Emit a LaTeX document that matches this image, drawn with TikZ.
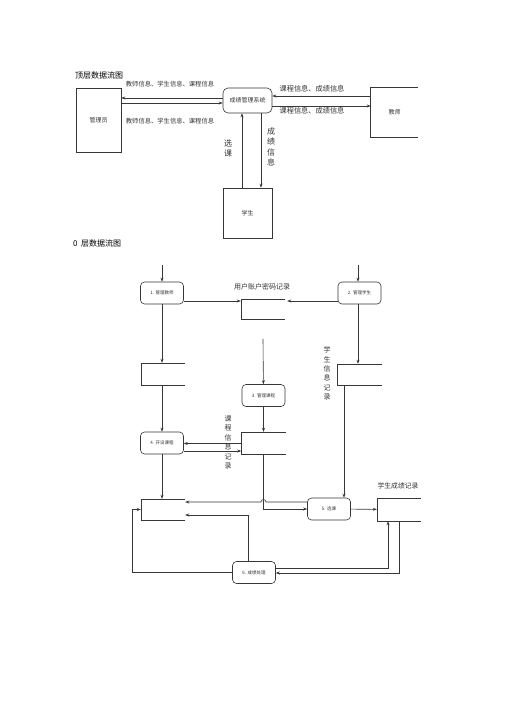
\documentclass[tikz,border=0pt]{standalone}
\usepackage{fontspec}
\newfontfamily\cjk{Noto Sans CJK SC}
\usetikzlibrary{arrows.meta,positioning,calc}
\definecolor{linecol}{RGB}{55,55,55}
\definecolor{textcol}{RGB}{50,50,50}

\tikzset{
  line/.style={linecol,line width=0.6pt},
  proc/.style={draw=linecol,line width=0.6pt,rounded corners=4pt,minimum width=43pt,minimum height=22pt,inner sep=0pt,text=textcol,font=\cjk\fontsize{4.5}{5}\selectfont},
  box/.style={draw=linecol,line width=0.6pt,inner sep=0pt,text=textcol,font=\cjk\fontsize{6}{7}\selectfont},
  store/.style={minimum width=44pt,minimum height=21pt,inner sep=0pt},
  lab/.style={text=textcol,inner sep=0pt,font=\cjk\fontsize{6.3}{7}\selectfont},
  vlab/.style={text=textcol,inner sep=0pt,align=center,font=\cjk\fontsize{7}{9.4}\selectfont},
}

\begin{document}
\begin{tikzpicture}[x=1pt,y=-1pt,>={Stealth[length=4pt,width=3pt]}]
  \useasboundingbox (0,0) rectangle (505,714);

  % top level
  \node[anchor=west,inner sep=0pt,font=\cjk\fontsize{8}{9}\selectfont] (t1) at (75,75) {顶层数据流图};
  \node[box,minimum width=45pt,minimum height=64pt] (adm) at (98.5,120) {管理员};
  \node[box,rounded corners=5pt,minimum width=49pt,minimum height=25pt] (sys) at (247.5,100.5) {成绩管理系统};
  \node[box,draw=none,minimum width=47pt,minimum height=49pt] (tea) at (394.5,112.5) {教师};
  \node[box,minimum width=49pt,minimum height=50pt] (stu) at (247.5,213) {学生};

  \draw[line,->] (sys.west |- 0,98) -- (adm.east |- 0,98);
  \draw[line,->] (adm.east |- 0,103) -- (sys.west |- 0,103);
  \draw[line,->] (tea.west |- 0,96) -- (sys.east |- 0,96);
  \draw[line,->] (sys.east |- 0,106) -- (tea.west |- 0,106);
  \draw[line,->] (stu.north -| 242,0) -- (sys.south -| 242,0);
  \draw[line,->] (sys.south -| 261,0) -- (stu.north -| 261,0);

  \node[lab] (l1) at (170,84) {教师信息、学生信息、课程信息};
  \node[lab] (l2) at (170,121) {教师信息、学生信息、课程信息};
  \node[lab,font=\cjk\fontsize{7.2}{8}\selectfont] (l3) at (312,89) {课程信息、成绩信息};
  \node[lab,font=\cjk\fontsize{7.2}{8}\selectfont] (l4) at (312,111) {课程信息、成绩信息};
  \node[vlab,font=\cjk\fontsize{8}{10}\selectfont] (l5) at (228,148) {选\\课};
  \node[vlab,font=\cjk\fontsize{8}{10.5}\selectfont] (l6) at (271,147) {成\\绩\\信\\息};

  % level 0
  \node[anchor=west,inner sep=0pt,font=\cjk\fontsize{8}{9}\selectfont] (t2) at (73,243) {0\ \ 层数据流图};

  \node[proc] (p1) at (162,293) {1. 管理教师};
  \node[proc] (p2) at (359.5,293) {2. 管理学生};
  \node[proc] (p3) at (263.5,395.5) {3. 管理课程};
  \node[proc] (p4) at (162,443) {4. 开设课程};
  \node[proc] (p5) at (329,509) {5. 选课};
  \node[proc] (p6) at (254,572.5) {6. 成绩处理};

  \node[store,minimum height=20pt] (s1) at (263,309) {};
  \node[store,minimum height=22pt] (s2) at (163,374) {};
  \node[store] (s3) at (359.5,374.5) {};
  \node[store,minimum height=22pt] (s4) at (263.5,443) {};
  \node[store] (s5) at (163,509.5) {};
  \node[store,minimum height=23pt] (s6) at (399,509.5) {};

  \foreach \s in {s1,s2,s3,s4,s5,s6,tea}
    \draw[line] (\s.north east) -- (\s.north west) -- (\s.south west) -- (\s.south east);

  \node[lab,font=\cjk\fontsize{7}{8}\selectfont] (n1) at (262,287) {用户账户密码记录};
  \node[vlab] (n3) at (327,373.5) {学\\生\\信\\息\\记\\录};
  \node[vlab] (n4) at (228,442.5) {课\\程\\信\\息\\记\\录};
  \node[lab,font=\cjk\fontsize{6.8}{8}\selectfont] (n6) at (398,486) {学生成绩记录};

  \coordinate (in1) at (162,265);
  \coordinate (in2) at (358,265);
  \coordinate (c3) at (263,339);

  \draw[line,->] (in1) -- (p1);
  \draw[line,->] (in2) -- (p2.north -| in2);
  \draw[line,->] (p1.east |- 0,301) -- (s1.west |- 0,301);
  \draw[line,->] (p2.west |- 0,301) -- ($(s1.east |- 0,301)+(2,0)$);
  \draw[line,->] (p1) -- (s2.north -| p1);
  \draw[line,->] (p2.south -| in2) -- (s3.north -| in2);
  \draw[line,->] (c3) -- (p3);
  \draw[line,->] (p3) -- (s4);
  \draw[line,->] (s2.south -| p4) -- (p4);
  \draw[line,->] (s4.west |- 0,443.5) -- (p4.east |- 0,443.5);
  \draw[line,->] (p4.east |- 0,451) -- (s4.west |- 0,451);
  \draw[line,->] (p4) -- (s5.north -| p4);
  \draw[line,->] (s4.south) |- (p5.west);
  \draw[line,->] (p5.west |- 0,502) -- ($(s4.south |- 0,502)+(2.5,0)$)
    arc[start angle=0,end angle=-180,radius=2.5] -- (s5.east |- 0,502);
  \draw[line,->] (p5) -- (s6);
  \draw[line,->] ([xshift=15pt]p5.north |- s3.south) -- ([xshift=15pt]p5.north);
  \draw[line,->] (p6.east |- 0,568) -| ([xshift=-11pt]s6.south);
  \draw[line,->] (s6.south) |- (p6.east |- 0,573);
  \draw[line,->] ([xshift=-6pt]p6.north) |- (s5.east |- 0,515);
  \draw[line,->] (p6.west) -| ([xshift=-9pt]s5.west) -- (s5.west);
\end{tikzpicture}
\end{document}
